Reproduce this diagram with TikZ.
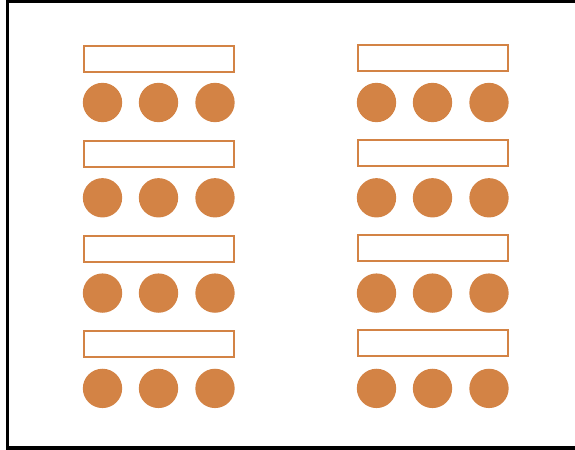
\documentclass[tikz,border=0pt]{standalone}
\definecolor{seatorange}{RGB}{211,131,69}
\begin{document}
\begin{tikzpicture}[x=0.75pt, y=-0.75pt,
    desk/.style={draw=seatorange, line width=1.5pt, inner sep=0pt,
        minimum width=112.5pt, minimum height=19.5pt},
    seat/.style={circle, fill=seatorange, inner sep=0pt, minimum size=29.5pt}]
    % Frame (right side runs off the page)
    \useasboundingbox (0,0) rectangle (575,450);
    \clip (0,0) rectangle (575,450);
    \draw[line width=2.4pt] (7.5,1.5) -- (590,1.5) -- (590,448) -- (7.5,448) -- cycle;

    % Left block: desks with three seats below each
    \foreach \r in {1,...,4} {
        \node[desk] (deskL\r) at (158.5, {58.5+95.3*(\r-1)}) {};
        \node[seat] (seatL\r a) at (102.5, {102.5+95.3*(\r-1)}) {};
        \node[seat] (seatL\r b) at (158.5, {102.5+95.3*(\r-1)}) {};
        \node[seat] (seatL\r c) at (215, {102.5+95.3*(\r-1)}) {};
    }

    % Right block
    \foreach \r in {1,...,4} {
        \node[desk] (deskR\r) at (432.5, {57.5+95.3*(\r-1)}) {};
        \node[seat] (seatR\r a) at (376.5, {102.5+95.3*(\r-1)}) {};
        \node[seat] (seatR\r b) at (432.5, {102.5+95.3*(\r-1)}) {};
        \node[seat] (seatR\r c) at (489, {102.5+95.3*(\r-1)}) {};
    }
\end{tikzpicture}
\end{document}
